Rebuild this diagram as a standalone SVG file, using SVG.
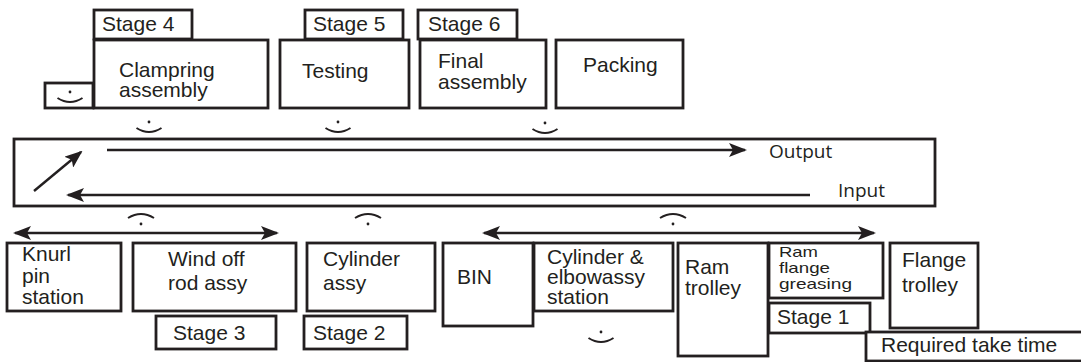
<svg xmlns="http://www.w3.org/2000/svg" width="1081" height="362" viewBox="0 0 1081 362">
  <style>
    .box { fill: #ffffff; stroke: #231f20; stroke-width: 2.8; }
    .lbl { font-family: "Liberation Sans", Arial, sans-serif; font-size: 21px; fill: #231f20; }
    .small { font-size: 15px; }
    .io { font-family: "Open Sans", "Liberation Sans", sans-serif; font-size: 19px; fill: #231f20; }
    .flow { fill: none; stroke: #231f20; stroke-width: 2.4; }
    .face { fill: none; stroke: #231f20; stroke-width: 2; }
    .eye { fill: #231f20; }
  </style>
  <defs>
    <marker id="head" viewBox="0 0 18 14" refX="16" refY="7" markerWidth="18" markerHeight="14" markerUnits="userSpaceOnUse" orient="auto-start-reverse">
      <path d="M0,0 L18,7 L0,14 L4,7 Z" fill="#231f20"/>
    </marker>
    <!-- smile: dot above a downward-bowed arc; origin at the dot -->
    <g id="smile">
      <circle class="eye" cx="0" cy="0" r="1.4"/>
      <path class="face" d="M-12.5,6 Q0,14 12.5,6"/>
    </g>
    <!-- frown: arc above a dot; origin at the dot -->
    <g id="frown">
      <circle class="eye" cx="0" cy="0" r="1.4"/>
      <path class="face" d="M-13,-6 Q0,-14 13,-6"/>
    </g>
  </defs>

  <rect width="1081" height="362" fill="#ffffff"/>

  <!-- upper row: stages 4 to 6 and packing -->
  <g id="stage4">
    <rect class="box" x="94" y="10" width="98" height="29"/>
    <text class="lbl" x="102" y="31">Stage 4</text>
  </g>
  <g id="clampring-assembly">
    <rect class="box" x="94" y="40" width="174" height="68"/>
    <text class="lbl" x="119" y="77">Clampring</text>
    <text class="lbl" x="119" y="97">assembly</text>
  </g>
  <g id="operator-top">
    <rect class="box" x="45" y="83" width="48" height="25"/>
    <use href="#smile" x="70" y="92"/>
  </g>
  <g id="stage5">
    <rect class="box" x="305" y="10" width="98" height="29"/>
    <text class="lbl" x="313" y="31">Stage 5</text>
  </g>
  <g id="testing">
    <rect class="box" x="280" y="40" width="129" height="68"/>
    <text class="lbl" x="302" y="78">Testing</text>
  </g>
  <g id="stage6">
    <rect class="box" x="418" y="10" width="99" height="29"/>
    <text class="lbl" x="428" y="31">Stage 6</text>
  </g>
  <g id="final-assembly">
    <rect class="box" x="420" y="40" width="126" height="68"/>
    <text class="lbl" x="438" y="68">Final</text>
    <text class="lbl" x="438" y="89">assembly</text>
  </g>
  <g id="packing">
    <rect class="box" x="556" y="40" width="127" height="68"/>
    <text class="lbl" x="583" y="72">Packing</text>
  </g>

  <!-- operators along the line -->
  <g id="operators">
    <use href="#smile" x="149" y="122"/>
    <use href="#smile" x="338" y="122"/>
    <use href="#smile" x="545" y="123"/>
    <use href="#frown" x="141" y="224"/>
    <use href="#frown" x="368" y="224"/>
    <use href="#frown" x="673" y="224"/>
    <use href="#smile" x="601" y="332"/>
  </g>

  <!-- conveyor frame -->
  <g id="conveyor">
    <rect class="box" x="14" y="139" width="921" height="67" fill="none"/>
    <text class="io" x="769" y="158">Output</text>
    <text class="io" x="838" y="197">Input</text>
  </g>

  <!-- material flow -->
  <g id="connectors">
    <line class="flow" x1="107" y1="150" x2="745" y2="150" marker-end="url(#head)"/>
    <line class="flow" x1="810" y1="195" x2="68" y2="195" marker-end="url(#head)"/>
    <line class="flow" x1="34" y1="191" x2="81" y2="152" marker-end="url(#head)"/>
    <line class="flow" x1="15" y1="233" x2="277" y2="233" marker-start="url(#head)" marker-end="url(#head)"/>
    <line class="flow" x1="484" y1="233" x2="874" y2="233" marker-start="url(#head)" marker-end="url(#head)"/>
  </g>

  <!-- lower row: stations and stages 1 to 3 -->
  <g id="knurl-pin-station">
    <rect class="box" x="7" y="243" width="114" height="68"/>
    <text class="lbl" x="22" y="261">Knurl</text>
    <text class="lbl" x="22" y="283">pin</text>
    <text class="lbl" x="22" y="304">station</text>
  </g>
  <g id="wind-off-rod-assy">
    <rect class="box" x="133" y="243" width="163" height="68"/>
    <text class="lbl" x="168" y="266">Wind off</text>
    <text class="lbl" x="168" y="290">rod assy</text>
  </g>
  <g id="stage3">
    <rect class="box" x="156" y="316" width="120" height="33"/>
    <text class="lbl" x="173" y="340">Stage 3</text>
  </g>
  <g id="cylinder-assy">
    <rect class="box" x="307" y="243" width="128" height="68"/>
    <text class="lbl" x="323" y="266">Cylinder</text>
    <text class="lbl" x="323" y="290">assy</text>
  </g>
  <g id="stage2">
    <rect class="box" x="304" y="316" width="103" height="33"/>
    <text class="lbl" x="313" y="340">Stage 2</text>
  </g>
  <g id="bin">
    <rect class="box" x="443" y="243" width="90" height="83"/>
    <text class="lbl" x="457" y="284">BIN</text>
  </g>
  <g id="cylinder-elbow-station">
    <rect class="box" x="534" y="243" width="139" height="68"/>
    <text class="lbl" x="547" y="264">Cylinder &amp;</text>
    <text class="lbl" x="547" y="284">elbowassy</text>
    <text class="lbl" x="547" y="304">station</text>
  </g>
  <g id="ram-trolley">
    <rect class="box" x="678" y="243" width="90" height="113"/>
    <text class="lbl" x="685" y="274">Ram</text>
    <text class="lbl" x="685" y="295">trolley</text>
  </g>
  <g id="ram-flange-greasing">
    <rect class="box" x="769" y="243" width="114" height="55"/>
    <text class="lbl small" x="779" y="257" textLength="39" lengthAdjust="spacingAndGlyphs">Ram</text>
    <text class="lbl small" x="779" y="273" textLength="51" lengthAdjust="spacingAndGlyphs">flange</text>
    <text class="lbl small" x="779" y="289" textLength="73" lengthAdjust="spacingAndGlyphs">greasing</text>
  </g>
  <g id="stage1">
    <rect class="box" x="769" y="303" width="101" height="30"/>
    <text class="lbl" x="777" y="324">Stage 1</text>
  </g>
  <g id="flange-trolley">
    <rect class="box" x="890" y="243" width="88" height="85"/>
    <text class="lbl" x="902" y="267">Flange</text>
    <text class="lbl" x="902" y="292">trolley</text>
  </g>
  <g id="required-take-time">
    <rect class="box" x="866" y="332" width="230" height="29"/>
    <text class="lbl" x="881" y="352">Required take time</text>
  </g>
</svg>
